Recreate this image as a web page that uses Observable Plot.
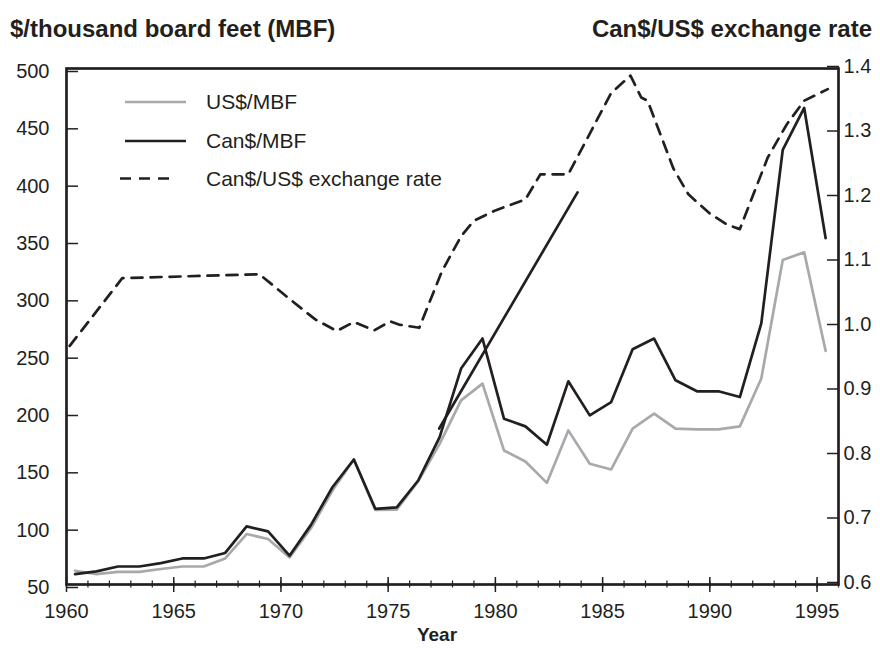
<!DOCTYPE html>
<html>
<head>
<meta charset="utf-8">
<script src="https://cdn.jsdelivr.net/npm/d3@7"></script>
<script src="https://cdn.jsdelivr.net/npm/@observablehq/plot@0.6"></script>
<style>
  body { margin: 0; background: #fff; }
  #wrap { position: relative; width: 880px; height: 664px; font-family: "Liberation Sans", Arial, sans-serif; color: #231f20; }
  .ttl { position: absolute; font-weight: bold; font-size: 24px; line-height: 1; white-space: nowrap; }
  #legend { position: absolute; left: 0; top: 0; }
</style>
</head>
<body>
<div id="wrap">
  <div id="chart"></div>
  <div class="ttl" style="left:10px; top:17px;">$/thousand board feet (MBF)</div>
  <div class="ttl" style="right:8px; top:17px;">Can$/US$ exchange rate</div>
  <div class="ttl" style="left:0; width:874px; text-align:center; top:625px; font-size:19px;">Year</div>
  <svg id="legend" width="880" height="664" style="pointer-events:none"></svg>
</div>
<script>
// ---- data ----
const years = d3.range(1960, 1996);
const usPrice = [62, 59, 61, 61, 63.5, 65.7, 65.7, 72.7, 94, 89.7, 73.6, 99, 132, 159, 115, 115.3, 140, 172.7, 210.6, 225.2,
                 166.9, 157.3, 138.6, 184.4, 155.3, 150.3, 185.9, 199, 185.9, 185.3, 185.3, 187.9, 229.6, 333, 339.7, 253.7];
const canPrice = [59.1, 61.4, 65.7, 65.7, 68.7, 72.7, 72.7, 77.5, 100.7, 96.3, 75.1, 102, 134.8, 159, 116, 117.3, 140.7, 178.5, 238.3, 264.5,
                  194.6, 187.9, 171.9, 227.2, 197.5, 209.1, 255.2, 264.5, 228.1, 218.5, 218.5, 213.5, 277.7, 429, 465.6, 352];
const rateX = [1960.15, 1962.6, 1969.0, 1970.5, 1971.6, 1972.6, 1973.4, 1974.35, 1975.1, 1975.5, 1976.45, 1977.5, 1978.4, 1979.0,
               1980.0, 1981.4, 1982.1, 1983.4, 1985.4, 1986.3, 1986.8, 1987.1, 1988.3, 1989.0, 1990.0, 1990.8, 1991.4, 1992.7,
               1993.6, 1994.4, 1995.5];
const rate = [0.97, 1.075, 1.081, 1.04, 1.011, 0.993, 1.007, 0.994, 1.008, 1.003, 0.998, 1.085, 1.14, 1.164,
              1.18, 1.197, 1.236, 1.236, 1.362, 1.389, 1.355, 1.35, 1.245, 1.205, 1.175, 1.158, 1.151, 1.262,
              1.314, 1.35, 1.368];
const strayX = [1977.38, 1983.83];
const strayY = [186, 392];
const leftTicks = d3.range(50, 501, 50);
const rateTicks = [0.6, 0.7, 0.8, 0.9, 1.0, 1.1, 1.2, 1.3, 1.4];
const majorYears = d3.range(1960, 1996, 5);
const minorYears = d3.range(1960, 1997);
const seriesNames = ["US$/MBF", "Can$/MBF", "Can$/US$ exchange rate"];

// ---- build tables ----
const usData = years.map((y, i) => ({year: y, value: usPrice[i]}));
const canData = years.map((y, i) => ({year: y, value: canPrice[i]}));
const rateData = rateX.map((x, i) => ({x, rate: rate[i]}));
const strayData = strayX.map((x, i) => ({x, value: strayY[i]}));
// map exchange rate (0.6..1.4) onto the left scale (50..500)
const toLeft = r => 50 + (r - 0.6) * (450 / 0.8);
const fromLeft = v => 0.6 + (v - 50) * (0.8 / 450);

const INK = "#231f20";
const GRAY = "#a7a9ac";
const DASH = "11,8";

const chart = Plot.plot({
  width: 880,
  height: 664,
  marginLeft: 66,
  marginRight: 42,
  marginTop: 68,
  marginBottom: 80,
  style: {fontFamily: "Liberation Sans, Arial, sans-serif", fontSize: "20px", color: INK, background: "white", overflow: "visible"},
  x: {domain: [1960, 1996], label: null},
  y: {domain: [50, 500], label: null},
  marks: [
    Plot.line(usData, {x: d => d.year + 0.4, y: "value", stroke: GRAY, strokeWidth: 2.7}),
    Plot.line(canData, {x: d => d.year + 0.4, y: "value", stroke: INK, strokeWidth: 2.7}),
    Plot.line(strayData, {x: "x", y: "value", stroke: INK, strokeWidth: 2.7}),
    Plot.line(rateData, {x: "x", y: d => toLeft(d.rate), stroke: INK, strokeWidth: 2.7, strokeDasharray: DASH}),
    // left axis
    Plot.axisY(leftTicks, {anchor: "left", tickSize: -12, tickPadding: 29, dy: 3, fontSize: 20, stroke: INK, strokeWidth: 1.5, label: null, tickFormat: d => String(d)}),
    // right axis (exchange rate)
    Plot.axisY(rateTicks.map(toLeft), {anchor: "right", tickSize: -12, tickPadding: 17, dy: -2, fontSize: 20, stroke: INK, strokeWidth: 1.5, label: null,
      tickFormat: d => fromLeft(d).toFixed(1)}),
    // bottom axis: major ticks with labels
    Plot.axisX(majorYears, {anchor: "bottom", tickSize: 8, tickPadding: 11, fontSize: 20, stroke: INK, strokeWidth: 1.5, label: null, tickFormat: d => String(d)}),
    Plot.axisX(majorYears, {anchor: "bottom", tickSize: -7, fontSize: 20, stroke: INK, strokeWidth: 1.5, label: null, tickFormat: () => ""}),
    Plot.axisX(minorYears, {anchor: "bottom", tickSize: 3.5, stroke: INK, strokeWidth: 1.2, label: null, tickFormat: () => ""}),
    Plot.axisX(minorYears, {anchor: "bottom", tickSize: -3.5, stroke: INK, strokeWidth: 1.2, label: null, tickFormat: () => ""}),
    Plot.frame({stroke: INK, strokeWidth: 2.7})
  ]
});
document.getElementById("chart").appendChild(chart);

// ---- legend ----
const lg = d3.select("#legend");
const rows = [
  {name: seriesNames[0], stroke: GRAY, dash: null, y: 102},
  {name: seriesNames[1], stroke: INK, dash: null, y: 141},
  {name: seriesNames[2], stroke: INK, dash: DASH, y: 178.5}
];
rows.forEach(r => {
  lg.append("line").attr("x1", r.dash ? 120 : 125).attr("x2", r.dash ? 176 : 186).attr("y1", r.y).attr("y2", r.y)
    .attr("stroke", r.stroke).attr("stroke-width", 2.7).attr("stroke-dasharray", r.dash);
  lg.append("text").attr("x", 206).attr("y", r.y).attr("dy", "0.35em")
    .attr("font-family", "Liberation Sans, Arial, sans-serif").attr("font-size", 21).attr("fill", INK).text(r.name);
});
</script>
</body>
</html>
